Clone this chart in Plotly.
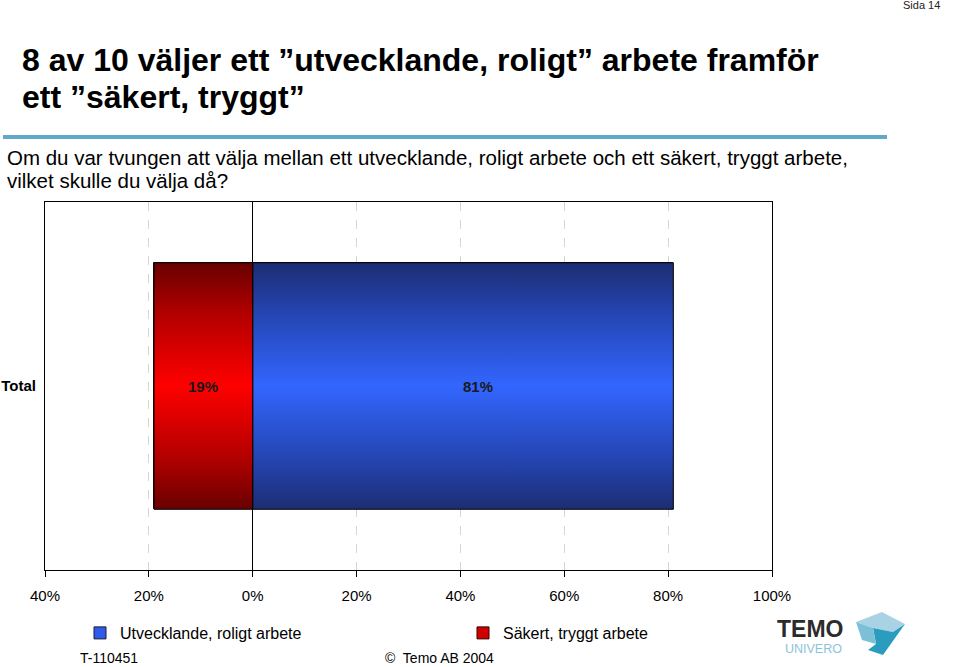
import plotly.graph_objects as go

categories = ["Total"]
series_names = ["Utvecklande, roligt arbete", "Säkert, tryggt arbete"]
utvecklande = [81]
sakert = [19]
tick_vals = [-40, -20, 0, 20, 40, 60, 80, 100]
tick_text = ["40%", "20%", "0%", "20%", "40%", "60%", "80%", "100%"]

W, H = 959, 667
L, R, T, B = 45, 187, 202, 97
PW, PH = W - L - R, H - T - B
BARW = 0.67

def px(x):
    return (x - L) / PW

def py(y):
    return (H - B - y) / PH

fig = go.Figure()

# legend-carrying bars (solid)
fig.add_trace(go.Bar(y=[0], x=[utvecklande[0]], base=[0], orientation="h", width=BARW,
                     marker=dict(color="#2f5be8", line=dict(color="#1a1a3a", width=1)),
                     name=series_names[0], legend="legend", showlegend=True, hoverinfo="skip"))
fig.add_trace(go.Bar(y=[0], x=[-sakert[0]], base=[0], orientation="h", width=BARW,
                     marker=dict(color="#d00000", line=dict(color="#3a0000", width=1)),
                     name=series_names[1], legend="legend2", showlegend=True, hoverinfo="skip"))

# gradient overlays built from the same values
h = BARW / 2
for val, cs in [
    (utvecklande[0], [[0, "#1c2d72"], [0.2, "#2444b0"], [0.5, "#3366ff"], [0.8, "#2444b0"], [1, "#1c2d72"]]),
    (-sakert[0], [[0, "#680000"], [0.2, "#b00000"], [0.5, "#ff0000"], [0.8, "#b00000"], [1, "#680000"]]),
]:
    fig.add_trace(go.Scatter(x=[0, val, val, 0, 0], y=[-h, -h, h, h, -h], mode="lines",
                             fill="toself", line=dict(color="#000000", width=1),
                             fillgradient=dict(type="vertical", colorscale=cs, start=-h, stop=h),
                             showlegend=False, hoverinfo="skip"))

# value labels
for val, s in [(-sakert[0], sakert[0]), (utvecklande[0], utvecklande[0])]:
    fig.add_annotation(x=val / 2 if val < 0 else val / 2 + 2.8, y=0, text=f"<b>{s}%</b>", showarrow=False,
                       font=dict(family="Liberation Sans", size=15, color="#1a1a1a"))

fig.update_xaxes(range=[-40, 100], tickvals=tick_vals, ticktext=tick_text, automargin=False,
                 showgrid=True, gridcolor="#d6d6d6", griddash="dash", gridwidth=1,
                 zeroline=True, zerolinecolor="#000000", zerolinewidth=1,
                 showline=True, linecolor="#000000", linewidth=1, mirror=True,
                 ticks="outside", ticklen=6, tickcolor="#000000", ticklabelstandoff=6,
                 tickfont=dict(family="Liberation Sans", size=15, color="#000000"))
fig.update_yaxes(range=[-0.5, 0.5], tickvals=[0], ticktext=["<b>" + categories[0] + "</b>"],
                 automargin=False,
                 showgrid=False, zeroline=False, showline=True, linecolor="#000000",
                 linewidth=1, mirror=True, ticks="", ticklabelstandoff=5,
                 tickfont=dict(family="Liberation Sans", size=15, color="#000000"))

ann = []
ann.append(dict(text="Sida 14", x=px(942), y=py(5), xanchor="right", yanchor="middle",
                font=dict(size=11, family="Liberation Sans", color="#222")))
ann.append(dict(text="<b>8 av 10 väljer ett ”utvecklande, roligt” arbete framför</b>",
                x=px(20), y=py(60), xanchor="left", yanchor="middle",
                font=dict(size=32, family="Liberation Sans", color="#000")))
ann.append(dict(text="<b>ett ”säkert, tryggt”</b>", x=px(20), y=py(97), xanchor="left", yanchor="middle",
                font=dict(size=32, family="Liberation Sans", color="#000")))
ann.append(dict(text="Om du var tvungen att välja mellan ett utvecklande, roligt arbete och ett säkert, tryggt arbete,",
                x=px(5), y=py(158), xanchor="left", yanchor="middle",
                font=dict(size=20.5, family="Liberation Sans", color="#000")))
ann.append(dict(text="vilket skulle du välja då?", x=px(5), y=py(181), xanchor="left", yanchor="middle",
                font=dict(size=20.5, family="Liberation Sans", color="#000")))
ann.append(dict(text="T-110451", x=px(78), y=py(658), xanchor="left", yanchor="middle",
                font=dict(size=14, family="Liberation Sans", color="#000")))
ann.append(dict(text="©  Temo AB 2004", x=px(383), y=py(658), xanchor="left", yanchor="middle",
                font=dict(size=14, family="Liberation Sans", color="#000")))
ann.append(dict(text="<b>TEMO</b>", x=px(775), y=py(629), xanchor="left", yanchor="middle",
                font=dict(size=23, family="Liberation Sans", color="#2b2b2b")))
ann.append(dict(text="UNIVERO", x=px(783), y=py(649), xanchor="left", yanchor="middle",
                font=dict(size=12.5, family="Liberation Sans", color="#8cc3da")))
for a in ann:
    a.update(xref="paper", yref="paper", showarrow=False)
    fig.add_annotation(**a)

def path(points):
    return "M " + " L ".join(f"{px(x)},{py(y)}" for x, y in points) + " Z"

shapes = [
    dict(type="line", xref="paper", yref="paper", x0=px(3), x1=px(887), y0=py(137), y1=py(137),
         line=dict(color="#62a9c9", width=4)),
    dict(type="path", xref="paper", yref="paper", path=path([(856, 622), (882, 612), (905, 624), (893, 632), (873, 628)]),
         fillcolor="#a9d3e5", line=dict(width=0)),
    dict(type="path", xref="paper", yref="paper", path=path([(873, 628), (893, 632), (905, 624), (883, 655), (868, 650), (876, 644)]),
         fillcolor="#2a9dbf", line=dict(width=0)),
    dict(type="path", xref="paper", yref="paper", path=path([(856, 622), (873, 628), (876, 644), (862, 640)]),
         fillcolor="#7cc0d8", line=dict(width=0)),
]
for s in shapes:
    fig.add_shape(**s)

fig.update_layout(
    width=W, height=H, margin=dict(l=L, r=R, t=T, b=B),
    paper_bgcolor="#ffffff", plot_bgcolor="#ffffff",
    barmode="overlay", bargap=0,
    legend=dict(x=px(80), y=py(633), xanchor="left", yanchor="middle", orientation="h",
                font=dict(size=16, family="Liberation Sans", color="#000"), itemwidth=30,
                bgcolor="rgba(0,0,0,0)"),
    legend2=dict(x=px(463), y=py(633), xanchor="left", yanchor="middle", orientation="h",
                 font=dict(size=16, family="Liberation Sans", color="#000"), itemwidth=30,
                 bgcolor="rgba(0,0,0,0)"),
)

fig.write_html("out.html")
